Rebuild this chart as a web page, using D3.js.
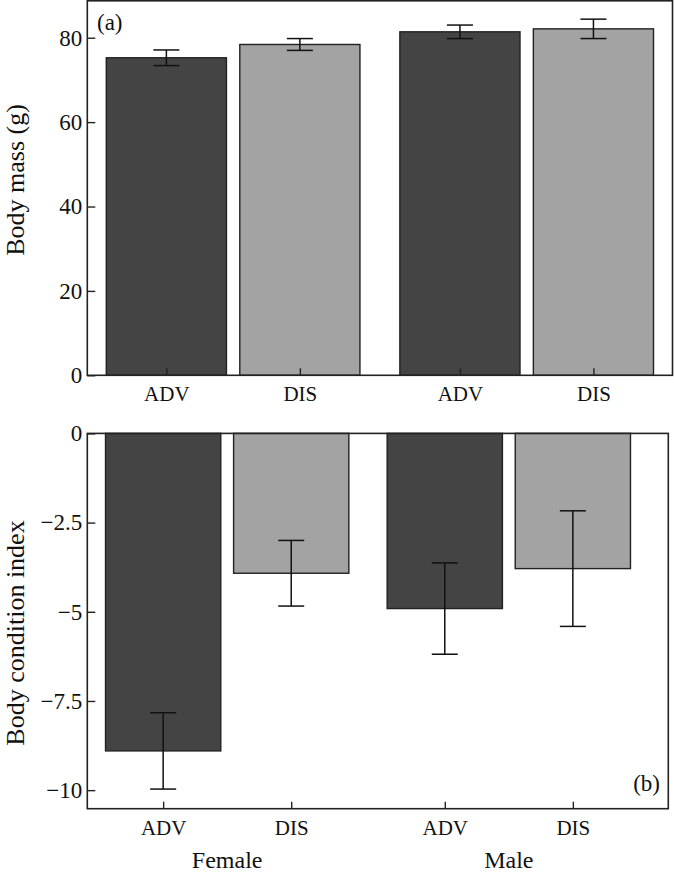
<!DOCTYPE html>
<html>
<head>
<meta charset="utf-8">
<script src="https://cdn.jsdelivr.net/npm/d3@7"></script>
<style>
  html, body { margin: 0; padding: 0; background: #fff; }
  svg { display: block; }
  text { font-family: "Liberation Serif", "DejaVu Serif", serif; fill: #111; }
</style>
</head>
<body>
<svg id="chart" width="674" height="873"></svg>
<script>
// ---- data ----
const groups = ["Female", "Male"];
const treatments = ["ADV", "DIS"];
const massMean = [75.25, 78.4, 81.4, 82.1];   // Female ADV, Female DIS, Male ADV, Male DIS
const massErr  = [1.85, 1.4, 1.6, 2.3];
const bciMean  = [-8.9, -3.92, -4.91, -3.79];
const bciErr   = [1.07, 0.92, 1.28, 1.62];
const massTicks = [0, 20, 40, 60, 80];
const bciTicks = [0, -2.5, -5, -7.5, -10];
const bciTickLabels = ["0", "\u22122.5", "\u22125", "\u22127.5", "\u221210"];

const colors = { ADV: "#444444", DIS: "#a3a3a3" };

const rows = [];
groups.forEach((g, gi) => treatments.forEach((t, ti) => {
  const i = gi * treatments.length + ti;
  rows.push({ g, t, key: g + "-" + t, mass: massMean[i], massE: massErr[i], bci: bciMean[i], bciE: bciErr[i] });
}));

const svg = d3.select("#chart");
const FS_TICK = 23, FS_X = 21, FS_TITLE = 26, FS_GROUP = 24, FS_LABEL = 23;

function panel(opts) {
  const { frame, bandRange, yDomain, ticks, tickLabels, value, err, label, labelPos, title, titleY, showGroups } = opts;
  const y = d3.scaleLinear().domain(yDomain).range([frame.y1, frame.y0]);
  const xg = d3.scaleBand().domain(groups).range(bandRange).paddingInner(0.136).paddingOuter(0.0647);
  const xi = d3.scaleBand().domain(treatments).range([0, xg.bandwidth()]).paddingInner(0.1);
  const xLeft = d => xg(d.g) + xi(d.t);
  const xCenter = d => xLeft(d) + xi.bandwidth() / 2;
  const g = svg.append("g");

  // bars
  g.selectAll("rect.bar").data(rows).join("rect")
    .attr("class", "bar")
    .attr("x", d => xLeft(d))
    .attr("width", xi.bandwidth())
    .attr("y", d => Math.min(y(0), y(value(d))))
    .attr("height", d => Math.abs(y(value(d)) - y(0)))
    .attr("fill", d => colors[d.t])
    .attr("stroke", "#222")
    .attr("stroke-width", 1.4);

  // error bars
  const cap = 13;
  const eb = g.selectAll("g.err").data(rows).join("g").attr("class", "err")
    .attr("stroke", "#111").attr("stroke-width", 1.5);
  eb.append("line")
    .attr("x1", d => xCenter(d)).attr("x2", d => xCenter(d))
    .attr("y1", d => y(value(d) + err(d))).attr("y2", d => y(value(d) - err(d)));
  eb.append("line")
    .attr("x1", d => xCenter(d) - cap).attr("x2", d => xCenter(d) + cap)
    .attr("y1", d => y(value(d) + err(d))).attr("y2", d => y(value(d) + err(d)));
  eb.append("line")
    .attr("x1", d => xCenter(d) - cap).attr("x2", d => xCenter(d) + cap)
    .attr("y1", d => y(value(d) - err(d))).attr("y2", d => y(value(d) - err(d)));

  // y axis
  const yAxis = d3.axisLeft(y).tickValues(ticks).tickSizeInner(-8).tickSizeOuter(0).tickPadding(5)
    .tickFormat((d, i) => tickLabels[i]);
  const ya = g.append("g").attr("transform", `translate(${frame.x0},0)`).call(yAxis);
  ya.select(".domain").remove();
  ya.selectAll("line").attr("stroke", "#222").attr("stroke-width", 1.4);
  ya.selectAll("text").attr("font-size", FS_TICK).attr("font-family", "Liberation Serif").attr("fill", "#111");

  // x axis
  const xs = d3.scaleOrdinal().domain(rows.map(d => d.key)).range(rows.map(d => xCenter(d)));
  const xAxis = d3.axisBottom(xs).tickSizeInner(-7).tickSizeOuter(0).tickPadding(11)
    .tickFormat(k => k.split("-")[1]);
  const xa = g.append("g").attr("transform", `translate(0,${frame.y1})`).call(xAxis);
  xa.select(".domain").remove();
  xa.selectAll("line").attr("stroke", "#222").attr("stroke-width", 1.4);
  xa.selectAll("text").attr("font-size", FS_X).attr("font-family", "Liberation Serif").attr("fill", "#111");

  // frame
  g.append("rect")
    .attr("x", frame.x0).attr("y", frame.y0)
    .attr("width", frame.x1 - frame.x0).attr("height", frame.y1 - frame.y0)
    .attr("fill", "none").attr("stroke", "#222").attr("stroke-width", 1.6);

  // panel label
  g.append("text").attr("x", labelPos[0]).attr("y", labelPos[1])
    .attr("text-anchor", labelPos[2]).attr("font-size", FS_LABEL).text(label);

  // y title
  g.append("text")
    .attr("transform", `translate(24,${titleY}) rotate(-90)`)
    .attr("text-anchor", "middle").attr("font-size", FS_TITLE).text(title);

  if (showGroups) {
    g.selectAll("text.grp").data(groups).join("text").attr("class", "grp")
      .attr("x", d => xg(d) + xg.bandwidth() / 2)
      .attr("y", frame.y1 + 59)
      .attr("text-anchor", "middle").attr("font-size", FS_GROUP).text(d => d);
  }
}

panel({
  frame: { x0: 87.3, x1: 672.5, y0: 0.8, y1: 375.3 },
  bandRange: [87.3, 672.5],
  yDomain: [0, 88.75],
  ticks: massTicks,
  tickLabels: massTicks.map(String),
  value: d => d.mass,
  err: d => d.massE,
  label: "(a)",
  labelPos: [97, 30, "start"],
  title: "Body mass (g)",
  titleY: 180,
  showGroups: false
});

panel({
  frame: { x0: 87.3, x1: 668.3, y0: 433.4, y1: 808.7 },
  bandRange: [87.3, 648.7],
  yDomain: [-10.52, 0],
  ticks: bciTicks,
  tickLabels: bciTickLabels,
  value: d => d.bci,
  err: d => d.bciE,
  label: "(b)",
  labelPos: [660, 791, "end"],
  title: "Body condition index",
  titleY: 633,
  showGroups: true
});
</script>
</body>
</html>
